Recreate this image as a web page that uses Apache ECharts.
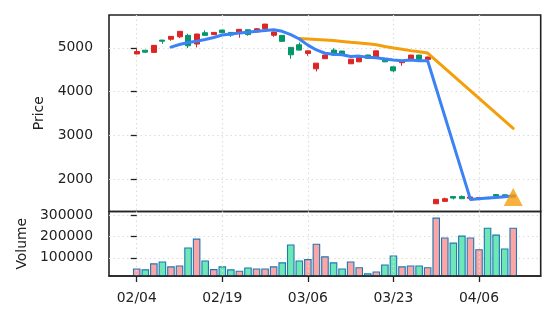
<!DOCTYPE html>
<html><head><meta charset="utf-8">
<script src="https://cdn.jsdelivr.net/npm/echarts@6/dist/echarts.min.js"></script>
<style>html,body{margin:0;padding:0;background:#fff}#c{width:556px;height:322px}</style>
</head><body><div id="c"></div>
<script>
// ---- data ----
const dates = ['02/04','02/05','02/06','02/07','02/10','02/11','02/12','02/13','02/14','02/18',
  '02/19','02/20','02/21','02/24','02/25','02/26','02/27','02/28','03/03','03/05',
  '03/06','03/07','03/10','03/11','03/12','03/13','03/14','03/17','03/18','03/20',
  '03/23','03/24','03/25','03/26','03/27','03/30','03/31','04/01','04/02','04/03',
  '04/06','04/07','04/08','04/09','04/10'];
const opens  = [4915,4900,5055,5150,5260,5375,5046,5313,5283,5350,5343,5290,5420,5300,5434,5540,5360,5146,4840,4947,4930,4650,4833,4833,4850,4740,4775,4760,4930,4680,4475,4705,4833,4735,4790,1545,1560,1575,1560,1600,1585,1560,1625,1620,1640];
const closes = [4860,4945,4895,5175,5195,5250,5283,5085,5343,5300,5404,5350,5330,5410,5360,5435,5285,5283,5009,5069,4872,4520,4750,4947,4925,4635,4680,4835,4772,4760,4565,4660,4735,4833,4735,1445,1500,1610,1612,1570,1560,1590,1655,1650,1600];
const lows   = [4850,4880,4890,5090,5160,5220,4993,5008,5280,5290,5335,5250,5230,5275,5355,5430,5250,5140,4750,4940,4817,4461,4745,4825,4845,4630,4675,4755,4765,4675,4440,4590,4730,4730,4730,1440,1495,1543,1555,1565,1555,1555,1620,1615,1595];
const highs  = [4975,4950,5060,5180,5265,5380,5320,5320,5397,5355,5410,5355,5425,5415,5450,5545,5365,5290,5015,5123,4935,4655,4840,4990,4930,4745,4780,4840,4935,4765,4570,4710,4840,4840,4795,1550,1585,1615,1635,1605,1590,1595,1660,1655,1645];
const volumes = [50000,46000,74000,83000,60000,64000,149000,191000,88000,47000,60000,46000,39000,55000,50000,50000,60000,79000,163000,88000,94000,167000,107000,79000,50000,83000,56000,27000,36000,69000,111000,60000,64000,64000,56000,290000,196000,172000,205000,196000,141000,242000,210000,144000,242000];
const blueLine = [null,null,null,null,5015,5075,5120,5150,5190,5235,5290,5315,5335,5355,5375,5395,5410,5375,5300,5200,5060,4950,4875,4850,4840,4800,4810,4785,4775,4745,4720,4705,4720,4705,4705,null,null,null,null,1545,1560,1575,1590,1605,1620];
const orangeLine = [null,null,null,null,null,null,null,null,null,null,null,null,null,null,null,null,null,null,null,5210,5200,5190,5180,5165,5145,5125,5110,5090,5070,5030,4995,4965,4935,4910,4880,null,null,null,null,null,null,null,null,null,3165];
const signalIdx = [44];
const signalPrice = [1600];
const xTickIdx = [0,10,20,30,40];
const priceTicks = [2000,3000,4000,5000];
const volTicks = [100000,200000,300000];

// ---- build ----
const UP = '#059669', DOWN = '#dc2626', VUP = '#6ee7b7', VDOWN = '#fca5a5';
const FONT = 'DejaVu Sans', TXT = '#222', AX = '#222';
const candleData = opens.map((o,i)=>[i,o,closes[i],lows[i],highs[i]]);
const volData = volumes.map((v,i)=>({value:[i,v], itemStyle:{color: closes[i]>=opens[i]?VUP:VDOWN}}));
const toPairs = arr => arr.map((v,i)=>v==null?null:[i,v]).filter(p=>p);
const gridLine = {show:true, lineStyle:{color:'#dcdcdc', type:[1.5,3], width:1.2}};
const plain = v => String(Math.round(v));
const XMIN = -3.24, XMAX = 47.21;
const chart = echarts.init(document.getElementById('c'));
chart.setOption({
  animation:false,
  grid:[
    {left:109, right:15.3, top:15, height:196.5, show:true, borderColor:AX, borderWidth:1.6},
    {left:109, right:15.3, top:211.5, height:64.5, show:true, borderColor:AX, borderWidth:1.6}
  ],
  xAxis:[
    {type:'value', gridIndex:0, min:XMIN, max:XMAX, axisLine:{show:false},
     axisTick:{show:false, customValues:xTickIdx}, axisLabel:{show:false, customValues:xTickIdx}, splitLine:gridLine},
    {type:'value', gridIndex:1, min:XMIN, max:XMAX, z:10,
     axisLine:{show:true, onZero:false, lineStyle:{color:AX, width:1.6}},
     axisTick:{show:true, customValues:xTickIdx, length:6, lineStyle:{color:AX, width:1.3}},
     axisLabel:{customValues:xTickIdx, formatter:v=>dates[Math.round(v)], margin:15, fontSize:13.9, color:TXT, fontFamily:FONT},
     splitLine:gridLine}
  ],
  yAxis:[
    {type:'value', gridIndex:0, min:1269, max:5747, axisLine:{show:false},
     axisTick:{show:true, customValues:priceTicks, length:6, lineStyle:{color:AX, width:1.3}},
     axisLabel:{customValues:priceTicks, formatter:plain, margin:16, fontSize:13.9, color:TXT, fontFamily:FONT},
     splitLine:gridLine,
     name:'Price', nameLocation:'middle', nameGap:55, nameTextStyle:{fontSize:13.9, color:TXT, fontFamily:FONT}},
    {type:'value', gridIndex:1, min:14300, max:318700, axisLine:{show:false},
     axisTick:{show:true, customValues:volTicks, length:6, lineStyle:{color:AX, width:1.3}},
     axisLabel:{customValues:volTicks, formatter:plain, margin:16, fontSize:13.9, color:TXT, fontFamily:FONT},
     splitLine:gridLine,
     name:'Volume', nameLocation:'middle', nameGap:77, nameTextStyle:{fontSize:13.9, color:TXT, fontFamily:FONT}}
  ],
  series:[
    {type:'candlestick', xAxisIndex:0, yAxisIndex:0, data:candleData, encode:{x:0, y:[1,2,3,4]},
     barWidth:5.5, z:2,
     itemStyle:{color:UP, color0:DOWN, borderColor:UP, borderColor0:DOWN, borderWidth:1}},
    {type:'line', xAxisIndex:0, yAxisIndex:0, data:toPairs(orangeLine), showSymbol:false, z:3,
     itemStyle:{color:'#f59e0b'}, lineStyle:{color:'#f59e0b', width:3, cap:'round', join:'round'}},
    {type:'line', xAxisIndex:0, yAxisIndex:0, data:toPairs(blueLine), showSymbol:false, z:4,
     itemStyle:{color:'#3b82f6'}, lineStyle:{color:'#3b82f6', width:3, cap:'round', join:'round'}},
    {type:'scatter', xAxisIndex:0, yAxisIndex:0, data:signalIdx.map((x,k)=>[x,signalPrice[k]]),
     symbol:'triangle', symbolSize:[19,18], z:5, itemStyle:{color:'#f59e0b'}},
    {type:'bar', xAxisIndex:1, yAxisIndex:1, data:volData, barWidth:7.6, z:2,
     itemStyle:{borderColor:'#1f77b4', borderWidth:1.1}}
  ]
});
</script></body></html>
